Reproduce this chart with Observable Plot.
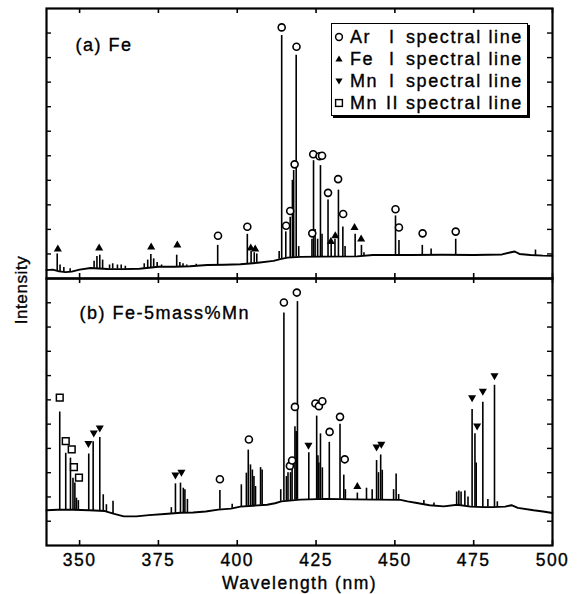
<!DOCTYPE html>
<html>
<head>
<meta charset="utf-8">
<script src="https://cdn.jsdelivr.net/npm/d3@7"></script>
<script src="https://cdn.jsdelivr.net/npm/@observablehq/plot@0.6"></script>
<style>
  body { margin: 0; background: #fff; }
  #chart { position: relative; width: 577px; height: 594px; background: #fff;
           font-family: "Liberation Sans", Arial, sans-serif; color: #000; }
  #chart svg { display: block; overflow: visible; }
  #chart svg text { stroke: #000; stroke-width: 0.35px; }
  .ylab { position: absolute; left: 22px; top: 290px; transform: translate(-50%, -50%) rotate(-90deg);
          font-size: 17px; letter-spacing: 0.6px; white-space: nowrap; -webkit-text-stroke: 0.35px #000; }
  .legend { position: absolute; left: 331px; top: 23px; width: 195px; height: 91px;
            border: 1.5px solid #000; box-shadow: 2px 2px 0 #000; background: #fff; }
  .legend .row { position: absolute; left: 0; height: 20px; width: 100%; font-size: 18px; letter-spacing: 1.6px;
                 -webkit-text-stroke: 0.35px #000; }
  .legend .row span { position: absolute; top: 0; line-height: 20px; white-space: nowrap; }
  .legend .row svg { position: absolute; top: 4px; left: 1px; }
</style>
</head>
<body>
<div id="chart"></div>
<script>
// ---------- data ----------
const xDomain = [339.5, 500];
const yDomain = [0, 11];
const xTicks = [350, 375, 400, 425, 450, 475, 500];
const yTicks = [1, 2, 3, 4, 5, 6, 7, 8, 9, 10];
const panelLabels = ["(a) Fe", "(b) Fe-5mass%Mn"];
const xLabel = "Wavelength (nm)";
const yLabel = "Intensity";
const legendSpecies = ["Ar", "Fe", "Mn", "Mn"];
const legendIon = ["I", "I", "I", "II"];
const legendText = "spectral line";

// panel (a) Fe: continuum [wavelength, intensity]
const baseA = [[339.5,0.34],[341.5,0.36],[343.5,0.29],[345.5,0.26],[347.5,0.28],[350,0.36],[353.5,0.43],[356,0.41],[359,0.39],[364,0.38],[369,0.4],[372,0.44],[375,0.48],[380,0.48],[385,0.5],[390.5,0.55],[396,0.56],[401,0.58],[406.5,0.64],[411.5,0.72],[414,0.8],[416,0.85],[420,0.88],[427,0.89],[438,0.9],[443,0.96],[455,0.96],[465,0.97],[475,0.96],[484,0.98],[486.5,1.06],[488,1.1],[489.5,1.0],[493,0.96],[497,0.93],[500,0.92]];
// panel (a) emission lines [wavelength, peak intensity]
const peaksA = [[342.9,1.0],[343.8,0.55],[345.0,0.45],[347.0,0.4],[354.6,0.7],[355.5,0.9],[356.4,0.95],[357.3,0.75],[359.5,0.55],[360.5,0.6],[362.0,0.55],[363.2,0.55],[364.5,0.5],[370.5,0.6],[371.6,0.75],[372.6,0.98],[373.5,0.8],[374.6,0.65],[376.0,0.55],[380.8,0.95],[381.8,0.65],[382.8,0.6],[384.0,0.55],[387.0,0.58],[393.8,1.35],[403.2,1.8],[404.4,1.1],[405.4,1.05],[406.2,1.0],[413.3,1.1],[414.1,9.9],[415.4,1.9],[416.8,2.5],[417.5,4.0],[417.9,4.4],[418.7,9.1],[419.5,1.3],[423.7,1.6],[424.2,4.8],[424.7,2.0],[425.5,1.6],[426.4,4.6],[426.9,1.8],[428.8,3.2],[429.8,1.4],[431.0,1.6],[432.1,3.6],[433.5,2.1],[434.2,1.3],[437.4,1.8],[439.4,1.35],[440.2,1.05],[450.2,2.55],[451.3,1.55],[458.7,1.35],[461.5,1.2],[469.3,1.6],[494.6,1.16]];
const arA = [[393.9,1.74],[403.2,2.11],[414.1,10.23],[415.5,2.15],[416.8,2.75],[418.2,4.65],[418.8,9.44],[423.8,1.84],[424.1,5.06],[426.1,4.98],[426.9,5.0],[428.8,3.49],[432.0,4.05],[433.6,2.63],[450.2,2.82],[451.3,2.08],[458.8,1.84],[469.3,1.91]];
const feA = [[343.1,1.2],[356.2,1.24],[372.7,1.28],[381.0,1.36],[404.3,1.24],[405.7,1.2],[429.7,1.5],[431.1,1.73],[437.2,2.07],[439.3,1.6]];

// panel (b) Fe-5mass%Mn
const baseB = [[339.5,1.45],[343,1.47],[348,1.47],[353,1.45],[358,1.42],[361,1.3],[364,1.2],[368,1.2],[372,1.25],[377,1.3],[382,1.35],[386,1.36],[390,1.4],[394,1.48],[398,1.52],[401,1.6],[405,1.64],[409.5,1.68],[412,1.74],[414,1.82],[420,1.89],[428,1.92],[437,1.9],[444,1.89],[451.8,1.88],[454,1.82],[457,1.75],[461,1.66],[465.5,1.61],[469.8,1.68],[474,1.6],[478,1.58],[481,1.58],[485,1.6],[487,1.66],[489,1.55],[494,1.45],[497,1.4],[500,1.34]];
const peaksB = [[343.7,5.5],[345.6,3.8],[347.1,3.6],[347.9,2.77],[348.5,2.57],[349.0,1.95],[349.6,1.85],[352.9,3.77],[354.3,4.27],[356.4,4.45],[357.5,2.09],[358.5,1.68],[360.6,1.82],[379.1,1.56],[380.4,2.54],[382.0,2.57],[382.9,2.36],[383.4,2.3],[384.2,1.9],[394.5,2.27],[398.4,1.7],[401.3,2.5],[402.9,2.98],[403.5,3.93],[404.2,3.32],[404.8,3.11],[405.3,2.84],[405.8,2.43],[407.4,3.21],[407.9,3.11],[413.8,2.3],[414.8,9.58],[415.6,2.84],[416.1,3.0],[416.9,3.0],[417.4,3.2],[418.3,4.89],[418.7,4.7],[419.1,10.05],[422.7,3.82],[425.2,5.33],[425.6,3.7],[425.9,3.4],[426.4,4.6],[427.0,3.2],[429.2,4.25],[432.6,5.0],[433.8,2.9],[434.3,2.3],[438.1,2.16],[441.0,2.36],[442.8,2.3],[444.2,3.5],[444.8,3.0],[445.5,3.73],[446.0,3.1],[449.6,2.3],[450.4,2.95],[451.2,2.1],[459.2,1.85],[462.4,1.75],[469.6,2.2],[470.3,2.25],[471.0,2.2],[472.2,2.25],[473.2,2.0],[474.5,5.6],[475.4,4.6],[475.8,3.4],[477.9,5.9],[479.5,1.9],[481.6,6.6],[482.5,1.8]];
const arB = [[394.5,2.73],[403.7,4.37],[414.8,10.01],[416.7,3.28],[417.4,3.5],[418.3,5.71],[418.9,10.42],[424.8,5.85],[425.9,5.74],[427.0,5.94],[429.3,4.68],[432.6,5.3],[434.1,3.55]];
const feB = [[438.1,2.42]];
const mn1B = [[352.8,4.21],[354.5,4.64],[356.4,4.85],[380.4,2.91],[382.3,3.02],[422.6,4.14],[444.2,4.07],[445.7,4.18],[474.5,6.09],[476.1,4.93],[477.9,6.36],[481.6,7.0]];
const mn2B = [[343.7,6.09],[345.6,4.3],[347.5,3.96],[348.2,3.23],[349.8,2.8]];

// ---------- drawing ----------
const downTriangle = {
  draw(ctx, size) {
    const y = Math.sqrt(size / (Math.sqrt(3) * 3));
    ctx.moveTo(0, 2 * y);
    ctx.lineTo(Math.sqrt(3) * y, -y);
    ctx.lineTo(-Math.sqrt(3) * y, -y);
    ctx.closePath();
  }
};

const W = 577, ML = 46, MR = 25;
const font = "'Liberation Sans', Arial, sans-serif";
const X = d => d[0], Y = d => d[1];

function panel({base, peaks, ar = [], fe = [], mn1 = [], mn2 = [], label, labelDx, labelDy, height, marginTop, marginBottom, bottomAxis}) {
  const innerH = height - marginTop - marginBottom;
  const innerW = W - ML - MR;
  const t = 5;
  const marks = [
    Plot.ruleX(peaks, {x: X, y1: 0, y2: Y, stroke: "#000", strokeWidth: 1.6}),
    Plot.areaY(base, {x: X, y: Y, fill: "white"}),
    Plot.lineY(base, {x: X, y: Y, stroke: "#000", strokeWidth: 1.9}),
    Plot.tickX(xTicks, {x: d => d, insetBottom: innerH - t, stroke: "#000", strokeWidth: 1.6}),
    Plot.tickX(xTicks, {x: d => d, insetTop: innerH - t, stroke: "#000", strokeWidth: 1.6}),
    Plot.tickY(yTicks, {y: d => d, insetRight: innerW - t, stroke: "#000", strokeWidth: 1.4}),
    Plot.tickY(yTicks, {y: d => d, insetLeft: innerW - t, stroke: "#000", strokeWidth: 1.4}),
    Plot.frame({stroke: "#000", strokeWidth: 2.2}),
    Plot.dot(ar, {x: X, y: Y, r: 3.5, stroke: "#000", fill: "white", strokeWidth: 1.6}),
    Plot.dot(fe, {x: X, y: Y, symbol: "triangle", r: 3.0, fill: "#000", stroke: "none"}),
    Plot.dot(mn1, {x: X, y: Y, symbol: downTriangle, r: 3.0, fill: "#000", stroke: "none"}),
    Plot.dot(mn2, {x: X, y: Y, symbol: "square", r: 3.8, fill: "white", stroke: "#000", strokeWidth: 1.5}),
    Plot.text([label], {text: d => d, frameAnchor: "top-left", textAnchor: "start", lineAnchor: "middle", dx: labelDx, dy: labelDy, fontSize: 18, fill: "#000"})
  ];
  if (bottomAxis) {
    marks.push(Plot.axisX(xTicks, {anchor: "bottom", tickSize: 0, tickPadding: 8, label: null, fontSize: 17.5, fill: "#000"}));
    marks.push(Plot.text([xLabel], {text: d => d, frameAnchor: "bottom", dy: 38, lineAnchor: "middle", fontSize: 17.5, fill: "#000"}));
  }
  return Plot.plot({
    width: W, height, marginLeft: ML, marginRight: MR, marginTop, marginBottom,
    style: {fontFamily: font, fontSize: "18px", letterSpacing: "1.5px", color: "#000", background: "transparent", overflow: "visible"},
    x: {domain: xDomain, axis: bottomAxis ? undefined : null},
    y: {domain: yDomain, axis: null},
    marks
  });
}

const chart = document.getElementById("chart");
chart.append(panel({base: baseA, peaks: peaksA, ar: arA, fe: feA, label: panelLabels[0], labelDx: 29, labelDy: 37,
  height: 278, marginTop: 8, marginBottom: 0, bottomAxis: false}));
chart.append(panel({base: baseB, peaks: peaksB, ar: arB, fe: feB, mn1: mn1B, mn2: mn2B, label: panelLabels[1], labelDx: 33, labelDy: 35,
  height: 316, marginTop: 0, marginBottom: 49, bottomAxis: true}));

// y-axis title
const yl = document.createElement("div");
yl.className = "ylab";
yl.textContent = yLabel;
chart.append(yl);

// legend
const legend = document.createElement("div");
legend.className = "legend";
const icons = [
  '<circle cx="6" cy="6" r="3.4" fill="white" stroke="#000" stroke-width="1.5"/>',
  '<path d="M6,2.5 L9.6,8.6 L2.4,8.6 Z" fill="#000"/>',
  '<path d="M6,9.5 L9.6,3.4 L2.4,3.4 Z" fill="#000"/>',
  '<rect x="2.6" y="2.6" width="6.8" height="6.8" fill="white" stroke="#000" stroke-width="1.4"/>'
];
legendSpecies.forEach((sp, i) => {
  const row = document.createElement("div");
  row.className = "row";
  row.style.top = (3 + i * 22) + "px";
  row.innerHTML = `<svg width="12" height="12">${icons[i]}</svg>` +
    `<span style="left:18px">${sp}</span>` +
    `<span style="left:${legendIon[i] === "I" ? 57 : 54}px">${legendIon[i]}</span>` +
    `<span style="left:74px">${legendText}</span>`;
  legend.append(row);
});
chart.append(legend);
</script>
</body>
</html>
